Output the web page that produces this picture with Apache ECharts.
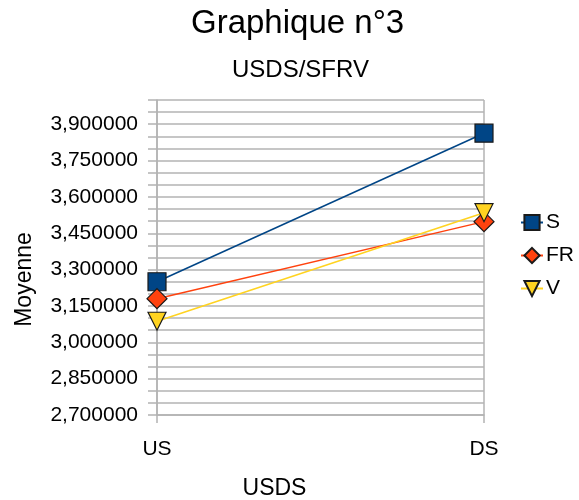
<!DOCTYPE html>
<html>
<head>
<meta charset="utf-8">
<script src="https://cdn.jsdelivr.net/npm/echarts@6/dist/echarts.min.js"></script>
<style>html,body{margin:0;padding:0;background:#fff}#c{width:579px;height:500px}</style>
</head>
<body>
<div id="c"></div>
<script>
var categories = ['US', 'DS'];
var seriesNames = ['S', 'FR', 'V'];
var valuesS = [3.25, 3.863];
var valuesFR = [3.18, 3.498];
var valuesV = [3.087, 3.535];
var yMin = 2.7, yMax = 4.0, yStep = 0.05, labelEvery = 3;

var font = 'Liberation Sans, Arial, sans-serif';
var chart = echarts.init(document.getElementById('c'), null, {renderer: 'canvas'});
var triDown = 'path://M0,0 L10,0 L5,10 Z';
function mk(name, data, color, symbol, size) {
  return {
    name: name, type: 'line', data: data,
    symbol: symbol, symbolSize: size, showSymbol: true,
    lineStyle: {color: color, width: 1.5},
    itemStyle: {color: color, borderColor: '#1a1a1a', borderWidth: 1.2},
    z: 3
  };
}
chart.setOption({
  animation: false,
  backgroundColor: '#ffffff',
  title: [
    {text: 'Graphique n°3', left: 186, top: 2, textStyle: {fontFamily: font, fontSize: 33, fontWeight: 'normal', color: '#000'}},
    {text: 'USDS/SFRV', left: 227, top: 53, textStyle: {fontFamily: font, fontSize: 24, fontWeight: 'normal', color: '#000'}}
  ],
  legend: {
    orient: 'vertical', left: 515, top: 207, itemGap: 12,
    itemWidth: 22, itemHeight: 19,
    textStyle: {fontFamily: font, fontSize: 21, color: '#000', padding: [0,0,0,-2]},
    data: seriesNames
  },
  grid: {left: 157, right: 95, top: 100, bottom: 85, containLabel: false, outerBoundsMode: 'none'},
  xAxis: {
    type: 'category', data: categories, boundaryGap: false,
    name: 'USDS', nameLocation: 'middle', nameGap: 62,
    nameTextStyle: {fontFamily: font, fontSize: 23, color: '#000', padding: [0, 92, 0, 0]},
    axisLine: {show: true, lineStyle: {color: '#b3b3b3', width: 1.5}},
    axisTick: {show: true, length: 8, lineStyle: {color: '#b3b3b3', width: 1.5}},
    axisLabel: {fontFamily: font, fontSize: 21, color: '#000', margin: 24},
    splitLine: {show: true, lineStyle: {color: '#b3b3b3', width: 1.5}}
  },
  yAxis: {
    type: 'value', min: yMin, max: yMax, interval: yStep,
    name: 'Moyenne', nameLocation: 'middle', nameGap: 121,
    nameTextStyle: {fontFamily: font, fontSize: 23, color: '#000', padding: [0, 44, 0, 0]},
    axisLine: {show: true, lineStyle: {color: '#b3b3b3', width: 1.5}},
    axisTick: {show: true, length: 9, lineStyle: {color: '#b3b3b3', width: 1.5}},
    axisLabel: {
      fontFamily: font, fontSize: 21, color: '#000', margin: 19,
      formatter: function (v) {
        var k = Math.round((v - yMin) / yStep);
        if (k % labelEvery !== 0) return '';
        return v.toFixed(6).replace('.', ',');
      }
    },
    splitLine: {show: true, lineStyle: {color: '#b3b3b3', width: 1.5}}
  },
  series: [
    mk('S', valuesS, '#004586', 'rect', 18),
    mk('FR', valuesFR, '#ff420e', 'diamond', 20),
    mk('V', valuesV, '#ffd320', triDown, 18)
  ]
});
</script>
</body>
</html>
